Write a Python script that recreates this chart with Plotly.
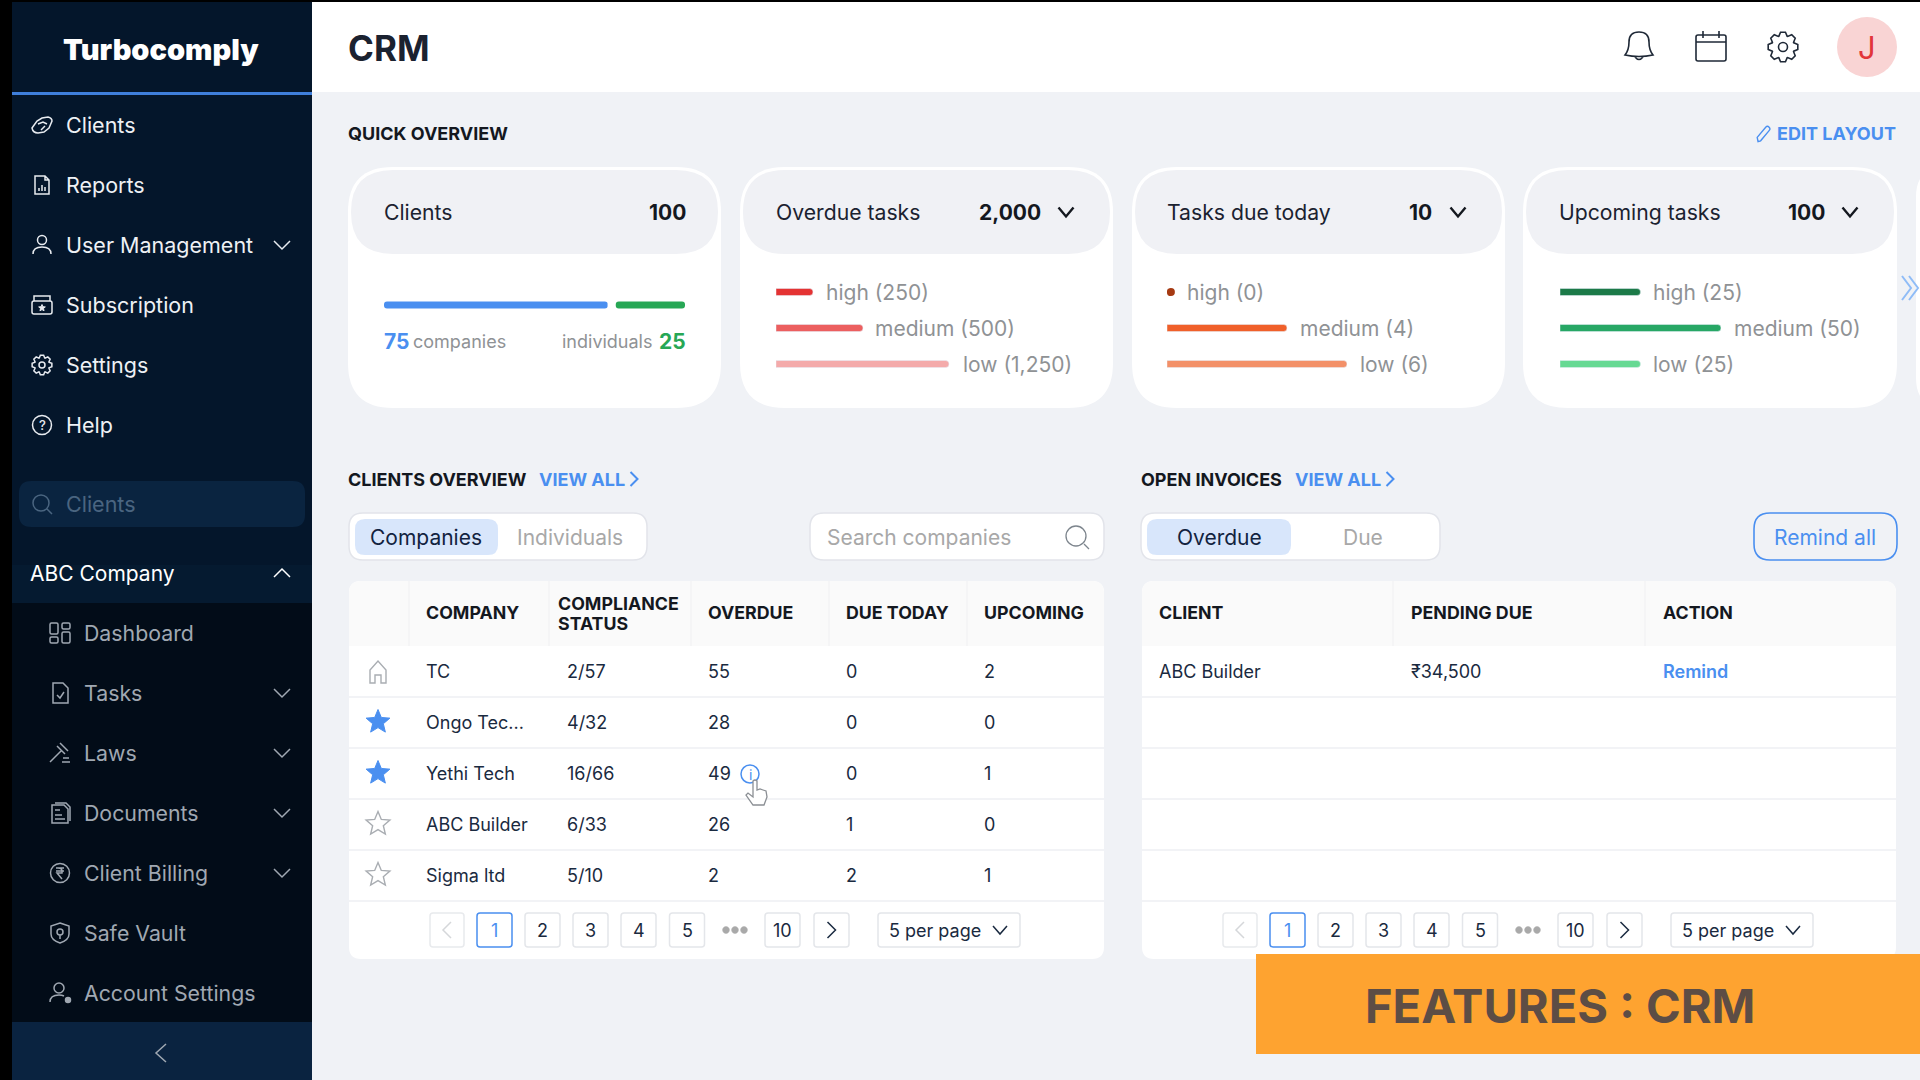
import math, re
import plotly.graph_objects as go

# ---------- data ----------
menu_top = ["Clients", "Reports", "User Management", "Subscription", "Settings", "Help"]
menu_sub = ["Dashboard", "Tasks", "Laws", "Documents", "Client Billing", "Safe Vault", "Account Settings"]
levels = ["high", "medium", "low"]
client_split = [75, 25]
overdue_vals = [250, 500, 1250]
overdue_drawn = [37, 87, 173]      # drawn bar lengths are not proportional in the source
today_vals = [0, 4, 6]
upcoming_vals = [25, 50, 25]
card_titles = ["Clients", "Overdue tasks", "Tasks due today", "Upcoming tasks"]
card_totals = ["100", "2,000", "10", "100"]
clients_head = ["COMPANY", "COMPLIANCE", "OVERDUE", "DUE TODAY", "UPCOMING"]
company = ["TC", "Ongo Tec...", "Yethi Tech", "ABC Builder", "Sigma ltd"]
compliance = ["2/57", "4/32", "16/66", "6/33", "5/10"]
overdue = [55, 28, 49, 26, 2]
due_today = [0, 0, 0, 1, 2]
upcoming = [2, 0, 1, 0, 1]
invoice_head = ["CLIENT", "PENDING DUE", "ACTION"]
invoice_row = ["ABC Builder", "₹34,500", "Remind"]
pages = ["1", "2", "3", "4", "5", "10"]

FONT = "Inter"
BLUE = "#4a8ff0"
NAVY = "#1a2a40"
GREY = "#8f9295"

fig = go.Figure()
shapes, annos = [], []

# ---------- drawing helpers ----------
def rr(x0, y0, x1, y1, r):
    return (f"M{x0+r} {y0} L{x1-r} {y0} Q{x1} {y0} {x1} {y0+r} L{x1} {y1-r} Q{x1} {y1} {x1-r} {y1} "
            f"L{x0+r} {y1} Q{x0} {y1} {x0} {y1-r} L{x0} {y0+r} Q{x0} {y0} {x0+r} {y0} Z")

def circ(cx, cy, r):
    k = 0.5523 * r
    return (f"M{cx-r} {cy} C{cx-r} {cy-k} {cx-k} {cy-r} {cx} {cy-r} C{cx+k} {cy-r} {cx+r} {cy-k} {cx+r} {cy} "
            f"C{cx+r} {cy+k} {cx+k} {cy+r} {cx} {cy+r} C{cx-k} {cy+r} {cx-r} {cy+k} {cx-r} {cy} Z")

def starp(r, inner=0.45):
    pts = []
    for i in range(10):
        a = -math.pi / 2 + i * math.pi / 5
        q = r if i % 2 == 0 else r * inner
        pts.append(f"{q*math.cos(a):.2f} {q*math.sin(a):.2f}")
    return "M" + " L".join(pts) + " Z"

def gearp(ro, ri, teeth=8):
    pts = []
    for i in range(teeth):
        a = 2 * math.pi * i / teeth
        d = math.pi / teeth
        for ang, q in [(a - d * .95, ri), (a - d * .42, ro), (a + d * .42, ro), (a + d * .95, ri)]:
            pts.append(f"{q*math.cos(ang):.2f} {q*math.sin(ang):.2f}")
    return "M" + " L".join(pts) + " Z"

def box(x0, y0, x1, y1, r=0, fill="#fff", line=None, w=1):
    shapes.append(dict(type="path", path=rr(x0, y0, x1, y1, r) if r else f"M{x0} {y0} L{x1} {y0} L{x1} {y1} L{x0} {y1} Z",
                       xref="x", yref="y", layer="below", fillcolor=fill,
                       line=dict(color=line or "rgba(0,0,0,0)", width=w if line else 0)))

num = re.compile(r"-?\d+\.?\d*")
def icon(d, cx, cy, s=1.0, color="#fff", w=1.5, fill="rgba(0,0,0,0)"):
    vals = iter(range(10**6))
    def rep(m):
        i = next(vals)
        v = float(m.group()) * s + (cx if i % 2 == 0 else cy)
        return f"{v:.2f}"
    shapes.append(dict(type="path", path=num.sub(rep, d), xref="x", yref="y", layer="below",
                       fillcolor=fill, line=dict(color=color, width=w)))

def T(x, y, s, size=18, color=NAVY, weight=400, anchor="left", family=FONT):
    annos.append(dict(x=x, y=y, xref="x", yref="y", text=s, showarrow=False, xanchor=anchor, yanchor="middle",
                      align=anchor, font=dict(family=family, size=size, color=color, weight=weight),
                      borderpad=0, borderwidth=0))

def chev(cx, cy, hw=8, hh=4, color="#fff", w=1.5, up=False):
    d = -1 if up else 1
    icon(f"M{-hw} {-hh*d} L0 {hh*d} L{hw} {-hh*d}", cx, cy, 1, color, w)

def chev_h(cx, cy, hw=5, hh=9, color="#fff", w=1.5, left=False):
    d = -1 if left else 1
    icon(f"M{-hw*d} {-hh} L{hw*d} 0 L{-hw*d} {hh}", cx, cy, 1, color, w)

# ---------- page frame ----------
box(0, 0, 1920, 1080, 0, "#f0f2f6")
box(312, 2, 1920, 92, 0, "#ffffff")
box(0, 0, 1920, 2, 0, "#000000")
box(0, 0, 12, 1080, 0, "#000000")
box(12, 2, 312, 1080, 0, "#04162b")
box(12, 92, 312, 95, 0, "#3f7fdc")
box(12, 565, 312, 603, 0, "#051a30")
box(12, 603, 312, 1022, 0, "#020c18")
box(12, 1022, 312, 1080, 0, "#0a2340")
box(19, 481, 305, 527, 12, "#0a2440")

T(161, 49, "Turbocomply", 29, "#ffffff", 900, "center")
T(348, 48, "CRM", 35, "#1b2230", 700)

# ---------- sidebar ----------
top_y = [125, 185, 245, 305, 365, 425]
for s, y in zip(menu_top, top_y):
    T(66, y, s, 21.5, "#eef1f5")
sub_y = [633, 693, 753, 813, 873, 933, 993]
for s, y in zip(menu_sub, sub_y):
    T(84, y, s, 21.3, "#a0a8b2")
T(66, 504, "Clients", 21.5, "#4a6580")
T(30, 573, "ABC Company", 21, "#ffffff")

W = "#e8ebf0"
icon("M-10 3 L-5 -4 L0 -7 L6 -8 Q10 -7 10 -4 L7 3 L2 7 L-4 8 Q-9 8 -10 3 Z M-4 -1 L1 -3 L5 -1 M-1 5 L3 1", 42, 125, 1, W)
icon("M-7 -9 L3 -9 L7 -5 L7 9 L-7 9 Z M3 -9 L3 -5 L7 -5 M-3 6 L-3 3 M0 6 L0 0 M3 6 L3 2", 42, 185, 1, W)
icon(circ(0, -5, 4.5) + " M-9 9 Q-9 2 0 2 Q9 2 9 9", 42, 245, 1, W)
icon(rr(-10, -4, 10, 9, 2) + " M-8 -4 L-8 -9 L8 -9 L8 -4", 42, 305, 1, W)
icon(starp(3.5), 42, 308, 1, W, 1, W)
icon(gearp(10, 7.5) + " " + circ(0, 0, 3), 42, 365, 1, W)
icon(circ(0, 0, 9.5), 42, 425, 1, W)
T(42, 425, "?", 13, W, 500, "center")
icon(circ(-1, -1, 8) + " M5 5 L10 10", 42, 504, 1, "#4a6580")
chev(282, 245, color=W)
chev(282, 573, color="#fff", up=True)
S = "#a0a8b2"
icon(rr(-10, -10, -2, 1, 1.5) + " " + rr(2, -10, 10, -4, 1.5) + " " + rr(-10, 4, -2, 10, 1.5) + " " + rr(2, -1, 10, 10, 1.5), 60, 633, 1, S)
icon("M-7 -10 L3 -10 L8 -5 L8 10 L-7 10 Z M-3 2 L0 5 L4 -1", 60, 693, 1, S)
icon("M-10 9 L1 -2 M-3 -7 L5 1 M0 -10 L8 -2 M2 9 L10 9 M3 5 L9 5", 60, 753, 1, S)
icon("M-8 -8 L4 -8 L8 -4 L8 10 L-8 10 Z M-5 -3 L0 -3 M-5 2 L2 2 M-5 6 L5 6 M-5 -10 L6 -10 L10 -6 L10 8", 60, 813, 1, S)
icon(circ(0, 0, 9.5) + " M-4 -5 L4 -5 M-4 -2 L4 -2 M-2 -5 Q3 -5 2 0 L-3 0 L2 6", 60, 873, 1, S)
icon("M0 -10 L9 -7 L9 1 Q9 7 0 10 Q-9 7 -9 1 L-9 -7 Z " + circ(0, -1, 3) + " M0 2 L0 6", 60, 933, 1, S)
icon(circ(-1, -5, 5) + " M-10 9 Q-10 2 -1 2 Q2 2 4 3", 60, 993, 1, S)
icon(circ(8, 7, 2.5), 60, 993, 1, S, 1.5, S)
for y in [693, 753, 813, 873]:
    chev(282, y, color=S)
chev_h(161, 1053, 5, 9, "#a0a8b2", 1.5, left=True)

# ---------- header icons ----------
D = "#1f2937"
icon("M-14 9 Q-10 4 -10 -4 Q-10 -14 0 -14 Q10 -14 10 -4 Q10 4 14 9 Q0 12 -14 9 Z M-4 11 Q0 16 4 11", 1639, 46, 1, D, 1.6)
icon(rr(-15, -11, 15, 15, 2) + " M-15 -4 L15 -4 M-8 -15 L-8 -8 M8 -15 L8 -8", 1711, 46, 1, D, 1.6)
icon(gearp(15, 11.5) + " " + circ(0, 0, 4.5), 1783, 47, 1, D, 1.6)
shapes.append(dict(type="circle", x0=1837, x1=1897, y0=17, y1=77, xref="x", yref="y", layer="below",
                   fillcolor="#f9d4d4", line=dict(width=0)))
T(1867, 47, "J", 31, "#e2353a", 400, "center")

# ---------- overview cards ----------
T(348, 133, "QUICK OVERVIEW", 18, "#14181f", 700)
T(1896, 133, "EDIT LAYOUT", 18, BLUE, 700, "right")
icon("M-7 9 L-8 4 L2 -8 Q4 -10 6 -8 Q8 -6 6 -4 L-4 8 Z", 1764, 134, 0.85, BLUE, 1.4)

cards = [(348, 721), (740, 1113), (1132, 1505), (1523, 1897)]
for x0, x1 in cards:
    box(x0, 167, x1, 408, 45, "#ffffff")
    box(x0 + 3, 170, x1 - 3, 254, 42, "#f0f1f5")
box(1916, 167, 1960, 408, 30, "#ffffff")
label_x = [384, 776, 1167, 1559]
total_x = [686, 1041, 1432, 1825]
for t, v, lx, tx in zip(card_titles, card_totals, label_x, total_x):
    T(lx, 212, t, 21.2, "#1b2230", 400)
    T(tx, 212, v, 21, "#14181f", 700, "right")
for cx in [1066, 1458, 1850]:
    chev(cx, 212, 7.5, 4.5, "#14181f", 2.4)

T(384, 341, f"<b>{client_split[0]}</b>", 21, BLUE, 700)
T(413, 341, "companies", 18, GREY)
T(652, 341, "individuals", 18, GREY, 400, "right")
T(686, 341, f"{client_split[1]}", 21, "#27a755", 700, "right")

row_y = [292, 328, 364]
for vals, xs in [(overdue_vals, [826, 875, 963]), (today_vals, [1187, 1300, 1360]), (upcoming_vals, [1653, 1734, 1653])]:
    for lv, v, x, y in zip(levels, vals, xs, row_y):
        T(x, y, f"{lv} ({v:,})", 21, GREY)

def subaxes(n, x0, x1, y0, y1, rng, cats):
    fig.update_layout(**{
        f"xaxis{n}": dict(domain=[x0 / 1920, x1 / 1920], range=[0, rng], visible=False, anchor=f"y{n}", fixedrange=True),
        f"yaxis{n}": dict(domain=[1 - y1 / 1080, 1 - y0 / 1080], type="category", categoryorder="array",
                          categoryarray=cats, range=[len(cats) - .5, -.5], visible=False,
                          anchor=f"x{n}", fixedrange=True)})

# Clients split bar: one stacked row, white outline makes the gap
subaxes(2, 380, 689, 287, 323, sum(client_split), ["clients"])
fig.add_bar(x=[client_split[0]], y=["clients"], base=[0], orientation="h", xaxis="x2", yaxis="y2", width=15 / 36,
            marker=dict(color=BLUE, cornerradius=7, line=dict(color="#fff", width=8)), showlegend=False)
fig.add_bar(x=[client_split[1]], y=["clients"], base=[client_split[0]], orientation="h", xaxis="x2", yaxis="y2", width=15 / 36,
            marker=dict(color="#27a755", cornerradius=7, line=dict(color="#fff", width=8)), showlegend=False)

BW = 7 / 36
subaxes(3, 776, 976, 274, 382, 200, levels)
fig.add_bar(x=overdue_drawn, y=levels, orientation="h", xaxis="x3", yaxis="y3", width=BW,
            marker=dict(color=["#e43333", "#ec5f5f", "#f4aaaa"], cornerradius=3.5), showlegend=False)
subaxes(4, 1167, 1347, 274, 382, 6, levels)
fig.add_bar(x=today_vals, y=levels, orientation="h", xaxis="x4", yaxis="y4", width=BW,
            marker=dict(color=["#a63a12", "#f0602a", "#f39068"], cornerradius=3.5), showlegend=False)
# a zero count is shown as a dot, nudged half a dot inward from the axis origin
zero_levels = [lv for lv, v in zip(levels, today_vals) if v == 0]
fig.add_scatter(x=[0.13] * len(zero_levels), y=zero_levels, mode="markers", xaxis="x4", yaxis="y4",
                marker=dict(color="#a63a12", size=8, symbol="circle"), showlegend=False)
subaxes(5, 1560, 1721, 274, 382, 50, levels)
fig.add_bar(x=upcoming_vals, y=levels, orientation="h", xaxis="x5", yaxis="y5", width=BW,
            marker=dict(color=["#1c7a48", "#27a765", "#66d993"], cornerradius=3.5), showlegend=False)
icon("M-9 -12 L0 0 L-9 12 M-2 -12 L7 0 L-2 12", 1911, 288, 1, "#8fbcf7", 2)

# ---------- section controls ----------
T(348, 479, "CLIENTS OVERVIEW", 18, "#14181f", 700)
T(539, 479, "VIEW ALL", 18, BLUE, 700)
chev_h(634, 479, 3.5, 7, BLUE, 2)
T(1141, 479, "OPEN INVOICES", 18, "#14181f", 700)
T(1295, 479, "VIEW ALL", 18, BLUE, 700)
chev_h(1390, 479, 3.5, 7, BLUE, 2)

for x0, x1, sel1, c1, t1, c2, t2 in [(349, 647, 498, 426, "Companies", 570, "Individuals"),
                                      (1141, 1440, 1291, 1219, "Overdue", 1363, "Due")]:
    box(x0, 513, x1, 560, 14, "#ffffff", "#e2e4ea", 1.5)
    box(x0 + 6, 519, sel1, 555, 10, "#d8e6fb")
    T(c1, 537, t1, 21, "#12233f", 400, "center")
    T(c2, 537, t2, 21, "#a8a8a8", 400, "center")
box(810, 513, 1104, 560, 14, "#ffffff", "#e2e4ea", 1.5)
T(827, 537, "Search companies", 21, "#a8a8a8")
icon(circ(-1, -1, 10) + " M7 7 L12 12", 1077, 537, 1, "#7d858d", 1.3)
box(1754, 513, 1897, 560, 16, "rgba(0,0,0,0)", BLUE, 1.6)
T(1825, 537, "Remind all", 21, BLUE, 400, "center")

# ---------- tables ----------
for x0, x1 in [(349, 1104), (1142, 1896)]:
    box(x0, 581, x1, 959, 12, "#ffffff")
    box(x0, 581, x1, 646, 12, "#fafafa")
    box(x0, 634, x1, 646, 0, "#fafafa")
    for y in [697, 748, 799, 850, 901]:
        box(x0, y - 1, x1, y + 1, 0, "#f2f3f6")
for x in [409, 549, 691, 829, 967, 1393, 1645]:
    box(x - .5, 581, x + .5, 646, 0, "#eff0f2")

head_x = [426, 558, 708, 846, 984]
for s, x in zip(clients_head, head_x):
    if s == "COMPLIANCE":
        T(x, 603, s, 17.8, "#14181f", 700)
        T(x, 623, "STATUS", 17.8, "#14181f", 700)
    else:
        T(x, 612, s, 17.8, "#14181f", 700)
for s, x in zip(invoice_head, [1159, 1411, 1663]):
    T(x, 612, s, 17.8, "#14181f", 700)

col_x = [426, 567, 708, 846, 984]
row_centers = [673.5, 724.5, 775.5, 826.5, 877.5]
for col, x in zip([company, compliance, overdue, due_today, upcoming], col_x):
    fig.add_scatter(x=[x] * len(col), y=row_centers, text=[str(v) for v in col], mode="text", textposition="middle right",
                    textfont=dict(family=FONT, size=18, color=NAVY), showlegend=False, xaxis="x", yaxis="y")
for s, x, c, wt in zip(invoice_row, [1159, 1411, 1663], [NAVY, NAVY, BLUE], [400, 400, 600]):
    T(x, 671, s, 18, c, wt)

icon("M-8 11 L-8 -2 L0 -11 L8 -2 L8 11 L3 11 L3 3 L-3 3 L-3 11 Z", 378, 672, 1, "#a9adb2", 1.4)
icon(starp(12.5), 378, 722, 1, BLUE, 1, BLUE)
icon(starp(12.5), 378, 773, 1, BLUE, 1, BLUE)
icon(starp(12.5), 378, 824, 1, "#a9adb2", 1.4)
icon(starp(12.5), 378, 875, 1, "#a9adb2", 1.4)
icon(circ(0, 0, 9), 750, 774, 1, BLUE, 1.5)
T(750, 774, "i", 14, BLUE, 400, "center")
icon("M-3 -12 Q-1 -14 1 -12 L1 -3 L4 -4 L7 -3 L10 -2 L11 4 L8 12 L-3 12 L-10 2 L-8 0 L-3 4 Z", 756, 793, 1, "#8b8f94", 1.3, "#ffffff")

# ---------- pagination ----------
for dx in [0, 793]:
    box(430 + dx, 913, 464 + dx, 947, 3, "#ffffff", "#e8eaed", 1.5)
    chev_h(447 + dx, 930, 4, 8, "#d5d7da", 1.5, left=True)
    for i, (p, x) in enumerate(zip(pages, [477, 525, 573, 621, 669.5, 765])):
        on = i == 0
        box(x + dx, 913, x + 35 + dx, 947, 3, "#ffffff", BLUE if on else "#e4e6ea", 1.5)
        T(x + 17.5 + dx, 930, p, 18, BLUE if on else NAVY, 400, "center")
    for o in [-9, 0, 9]:
        icon(circ(0, 0, 3.4), 735 + o + dx, 930, 1, "#a9a9a9", .5, "#a9a9a9")
    box(814 + dx, 913, 849 + dx, 947, 3, "#ffffff", "#e4e6ea", 1.5)
    chev_h(831.5 + dx, 930, 4, 8, NAVY, 1.5)
    box(878 + dx, 913, 1020 + dx, 947, 3, "#ffffff", "#e4e6ea", 1.5)
    T(889 + dx, 930, "5 per page", 18, NAVY)
    chev(1000 + dx, 930, 7, 4, NAVY, 1.5)

# ---------- banner ----------
box(1256, 954, 1920, 1054, 0, "#fea330")
T(1560, 1005, "FEATURES : CRM", 47, "#5d4d45", 700, "center")

fig.update_layout(
    width=1920, height=1080, margin=dict(l=0, r=0, t=0, b=0), autosize=False,
    paper_bgcolor="#f0f2f6", plot_bgcolor="rgba(0,0,0,0)", hovermode=False, barmode="overlay",
    xaxis=dict(range=[0, 1920], domain=[0, 1], visible=False, fixedrange=True),
    yaxis=dict(range=[1080, 0], domain=[0, 1], visible=False, fixedrange=True),
    shapes=shapes, annotations=annos, showlegend=False,
)
fig.write_html("out.html", config=dict(displayModeBar=False),
               post_script="document.body.style.margin='0';document.body.style.overflow='hidden';")
